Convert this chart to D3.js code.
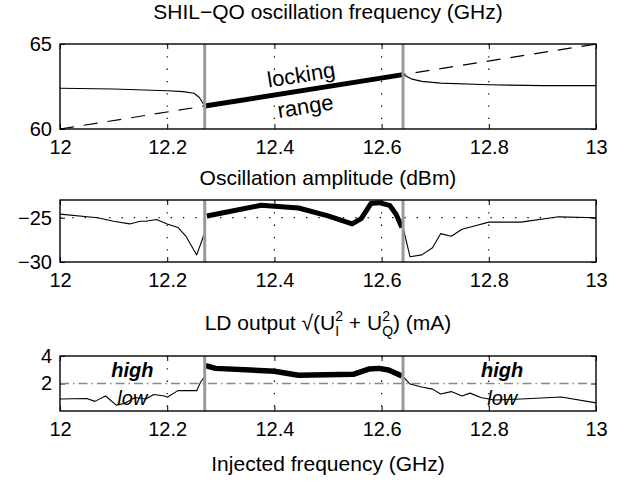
<!DOCTYPE html>
<html>
<head>
<meta charset="utf-8">
<script src="https://cdn.jsdelivr.net/npm/d3@7"></script>
<style>
  body { margin: 0; background: #fff; }
  svg { font-family: "Liberation Sans", Arial, Helvetica, sans-serif; }
</style>
</head>
<body>
<div id="container"></div>
<script>
let width = 617;
let height = 485;

// x axis, shared
let xTicks = [12, 12.2, 12.4, 12.6, 12.8, 13];
let lockRange = [12.27, 12.64];

// panel 1: oscillation frequency (GHz)
let refX = [12, 13];              // 5 x injected frequency (dashed)
let refY = [60, 65];
let lockFreqX = [12.27, 12.64];
let lockFreqY = [61.35, 63.2];
let freeLeftX = [12, 12.1, 12.2, 12.23, 12.25, 12.26, 12.265, 12.27];
let freeLeftY = [62.4, 62.35, 62.25, 62.2, 62.1, 61.85, 61.6, 61.35];
let freeRightX = [12.64, 12.655, 12.675, 12.71, 12.8, 12.9, 13];
let freeRightY = [63.2, 62.95, 62.8, 62.7, 62.6, 62.55, 62.55];

// panel 2: oscillation amplitude (dBm)
let ampLeftX = [12, 12.07, 12.1, 12.13, 12.15, 12.16, 12.18, 12.2, 12.22, 12.235, 12.255, 12.27];
let ampLeftY = [-24.6, -25.0, -25.4, -25.7, -25.4, -25.4, -25.2, -25.7, -26.1, -27.1, -29.2, -26.7];
let ampLockX = [12.274, 12.3, 12.375, 12.445, 12.5, 12.545, 12.562, 12.58, 12.595, 12.615, 12.627, 12.638];
let ampLockY = [-24.8, -24.5, -23.6, -23.9, -24.8, -25.7, -25.1, -23.4, -23.3, -23.6, -24.6, -26.1];
let ampRightX = [12.64, 12.653, 12.675, 12.695, 12.71, 12.73, 12.75, 12.775, 12.8, 12.86, 12.93, 13];
let ampRightY = [-26.1, -29.4, -29.2, -28.4, -26.8, -27.1, -26.3, -25.9, -25.5, -25.5, -24.9, -25.0];

// panel 3: LD output (mA)
let ldLeftX = [12, 12.05, 12.065, 12.085, 12.105, 12.12, 12.14, 12.16, 12.175, 12.195, 12.2, 12.22, 12.255, 12.262, 12.27];
let ldLeftY = [0.87, 0.91, 0.7, 1.09, 0.43, 0.54, 0.98, 0.87, 1.2, 1.09, 1.0, 1.48, 1.48, 2.07, 2.5];
let ldLockX = [12.272, 12.29, 12.4, 12.445, 12.547, 12.576, 12.595, 12.613, 12.638];
let ldLockY = [3.3, 3.1, 2.89, 2.6, 2.67, 3.05, 3.1, 2.98, 2.55];
let ldRightX = [12.64, 12.653, 12.675, 12.695, 12.71, 12.73, 12.75, 12.765, 12.785, 12.81, 12.86, 12.935, 13];
let ldRightY = [2.5, 1.96, 1.74, 1.59, 1.24, 1.41, 1.09, 1.3, 0.98, 0.8, 0.87, 1.02, 0.59];
let threshold = 2;

let panels = [
  { top: 44, h: 85, domain: [60, 65], ticks: [60, 65], hgrid: [] },
  { top: 200, h: 62, domain: [-30, -23], ticks: [-30, -25], hgrid: [-25] },
  { top: 356, h: 55, domain: [0, 4], ticks: [2, 4], hgrid: [] }
];
let left = 60, right = 596;
let fs = 20;

let svg = d3.select("#container").append("svg")
  .attr("width", width).attr("height", height);

let x = d3.scaleLinear().domain([12, 13]).range([left, right]);

function zip(xs, ys) { return xs.map((v, i) => [v, ys[i]]); }

function drawPanel(p) {
  let y = d3.scaleLinear().domain(p.domain).range([p.top + p.h, p.top]);
  p.y = y;
  let g = svg.append("g");
  // vertical dotted grid
  g.selectAll(".vg").data(xTicks.slice(1, -1)).join("line")
    .attr("x1", d => x(d)).attr("x2", d => x(d))
    .attr("y1", p.top).attr("y2", p.top + p.h)
    .attr("stroke", "#000").attr("stroke-width", 1.2)
    .attr("stroke-dasharray", "1.3 11");
  g.selectAll(".hg").data(p.hgrid).join("line")
    .attr("x1", left).attr("x2", right)
    .attr("y1", d => y(d)).attr("y2", d => y(d))
    .attr("stroke", "#000").attr("stroke-width", 1.2)
    .attr("stroke-dasharray", "1.3 11");

  // bottom axis with labels
  let ax = g.append("g").attr("transform", `translate(0,${p.top + p.h})`)
    .call(d3.axisBottom(x).tickValues(xTicks).tickSizeInner(-5).tickSizeOuter(0)
      .tickPadding(11).tickFormat(d => String(+d.toFixed(1))));
  ax.select(".domain").remove();
  ax.selectAll("text").attr("font-size", fs).attr("font-family", null).attr("fill", "#000");
  let axt = g.append("g").attr("transform", `translate(0,${p.top})`)
    .call(d3.axisTop(x).tickValues(xTicks).tickSizeInner(-5).tickSizeOuter(0).tickFormat(""));
  axt.select(".domain").remove();

  let ay = g.append("g").attr("transform", `translate(${left},0)`)
    .call(d3.axisLeft(y).tickValues(p.ticks).tickSizeInner(-5).tickSizeOuter(0)
      .tickPadding(8).tickFormat(d => String(d).replace("-", "\u2212")));
  ay.select(".domain").remove();
  ay.selectAll("text").attr("font-size", fs).attr("font-family", null).attr("fill", "#000");
  let ayr = g.append("g").attr("transform", `translate(${right},0)`)
    .call(d3.axisRight(y).tickValues(p.ticks).tickSizeInner(-5).tickSizeOuter(0).tickFormat(""));
  ayr.select(".domain").remove();
  return g;
}

function line(g, y, xs, ys, w, dash) {
  g.append("path")
    .datum(zip(xs, ys))
    .attr("fill", "none")
    .attr("stroke", "#000")
    .attr("stroke-width", w)
    .attr("stroke-linejoin", "round")
    .attr("stroke-dasharray", dash || null)
    .attr("d", d3.line().x(d => x(d[0])).y(d => y(d[1])));
}

function finish(g, p) {
  // locking range markers
  g.selectAll(".lr").data(lockRange).join("line")
    .attr("x1", d => x(d)).attr("x2", d => x(d))
    .attr("y1", p.top).attr("y2", p.top + p.h)
    .attr("stroke", "#999").attr("stroke-width", 3);
  g.append("rect")
    .attr("x", left).attr("y", p.top)
    .attr("width", right - left).attr("height", p.h)
    .attr("fill", "none").attr("stroke", "#000").attr("stroke-width", 1.4);
}

// ---- panel 1
let p1 = panels[0];
let g1 = drawPanel(p1);
line(g1, p1.y, refX, refY, 1.2, "14 10");
line(g1, p1.y, freeLeftX, freeLeftY, 1.1);
line(g1, p1.y, freeRightX, freeRightY, 1.1);
line(g1, p1.y, lockFreqX, lockFreqY, 5);
let ang = Math.atan2(p1.y(lockFreqY[1]) - p1.y(lockFreqY[0]), x(lockFreqX[1]) - x(lockFreqX[0])) * 180 / Math.PI;
function label1(txt, f, v) {
  g1.append("text").attr("x", x(f)).attr("y", p1.y(v))
    .attr("text-anchor", "middle").attr("font-size", 22)
    .attr("transform", `rotate(${ang},${x(f)},${p1.y(v)})`).text(txt);
}
label1("locking", 12.452, 62.75);
label1("range", 12.46, 60.9);
finish(g1, p1);

// ---- panel 2
let p2 = panels[1];
let g2 = drawPanel(p2);
line(g2, p2.y, ampLeftX, ampLeftY, 1.1);
line(g2, p2.y, ampRightX, ampRightY, 1.1);
line(g2, p2.y, ampLockX, ampLockY, 5);
finish(g2, p2);

// ---- panel 3
let p3 = panels[2];
let g3 = drawPanel(p3);
g3.append("line").attr("x1", left).attr("x2", right)
  .attr("y1", p3.y(threshold)).attr("y2", p3.y(threshold))
  .attr("stroke", "#888").attr("stroke-width", 1.3)
  .attr("stroke-dasharray", "9 4 1.5 4");
line(g3, p3.y, ldLeftX, ldLeftY, 1.1);
line(g3, p3.y, ldRightX, ldRightY, 1.1);
line(g3, p3.y, ldLockX, ldLockY, 5.5);
[12.135, 12.825].forEach(f => {
  g3.append("text").attr("x", x(f)).attr("y", p3.y(2.45))
    .attr("text-anchor", "middle").attr("font-size", fs)
    .attr("font-weight", "bold").attr("font-style", "italic").text("high");
  g3.append("text").attr("x", x(f)).attr("y", p3.y(0.45))
    .attr("text-anchor", "middle").attr("font-size", fs)
    .attr("font-style", "italic").text("low");
});
finish(g3, p3);

// ---- titles
let cx = (left + right) / 2;
svg.append("text").attr("x", cx).attr("y", 19).attr("text-anchor", "middle")
  .attr("font-size", 21).text("SHIL\u2212QO oscillation frequency (GHz)");
svg.append("text").attr("x", cx).attr("y", 185).attr("text-anchor", "middle")
  .attr("font-size", 21).text("Oscillation amplitude (dBm)");
let t3 = svg.append("text").attr("x", cx).attr("y", 330).attr("text-anchor", "middle")
  .attr("font-size", 21);
t3.append("tspan").text("LD output \u221A(U");
t3.append("tspan").attr("font-size", 14).attr("dy", -9).text("2");
t3.append("tspan").attr("font-size", 14).attr("dx", -7.8).attr("dy", 15).text("I");
t3.append("tspan").attr("dx", 3.9).attr("dy", -6).text(" + U");
t3.append("tspan").attr("font-size", 14).attr("dy", -9).text("2");
t3.append("tspan").attr("font-size", 14).attr("dx", -7.8).attr("dy", 15).text("Q");
t3.append("tspan").attr("dy", -6).text(") (mA)");

svg.append("text").attr("x", cx).attr("y", 471).attr("text-anchor", "middle")
  .attr("font-size", 21).text("Injected frequency (GHz)");
</script>
</body>
</html>
